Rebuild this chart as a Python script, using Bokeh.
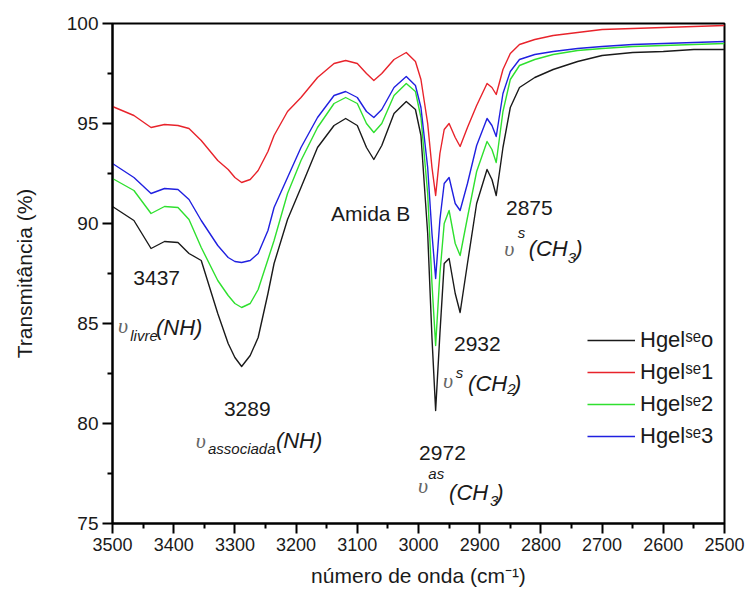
from bokeh.plotting import figure
from bokeh.models import Range1d, Legend, LegendItem, FixedTicker
from bokeh.core.properties import value
from bokeh.embed import file_html
from bokeh.resources import INLINE

# ---------------- data ----------------
wavenumber = [3500, 3465, 3437, 3415, 3393, 3375, 3355, 3328, 3311, 3300, 3289, 3275,
              3262, 3246, 3236, 3214, 3192, 3165, 3138, 3119, 3100, 3085, 3073, 3060,
              3040, 3020, 3005, 2996, 2985, 2978, 2972, 2965, 2958, 2950, 2940, 2932,
              2920, 2905, 2888, 2880, 2873, 2862, 2850, 2835, 2810, 2780, 2740, 2700,
              2650, 2600, 2550, 2500]

hgel_o = [90.85, 90.15, 88.75, 89.1, 89.05, 88.5, 88.15, 85.5, 84.0, 83.3, 82.85, 83.4,
          84.3, 86.5, 88.0, 90.2, 91.8, 93.8, 94.9, 95.25, 94.9, 93.8, 93.2, 93.9,
          95.5, 96.1, 95.7, 94.4, 89.5, 84.3, 80.65, 84.5, 88.0, 88.25, 86.5, 85.55,
          88.0, 91.0, 92.7, 92.2, 91.4, 93.8, 95.8, 96.8, 97.3, 97.7, 98.1, 98.4,
          98.55, 98.6, 98.7, 98.7]

hgel_1 = [95.85, 95.4, 94.8, 94.95, 94.9, 94.75, 94.15, 93.15, 92.7, 92.3, 92.05, 92.2,
          92.65, 93.6, 94.4, 95.6, 96.3, 97.3, 98.0, 98.15, 98.0, 97.5, 97.15, 97.5,
          98.2, 98.55, 98.1, 97.2, 95.0, 92.8, 91.4, 93.5, 94.7, 95.0, 94.3, 93.85,
          94.8, 95.9, 97.0, 96.8, 96.45, 97.7, 98.5, 98.95, 99.2, 99.4, 99.55, 99.7,
          99.75, 99.8, 99.85, 99.9]

hgel_2 = [92.25, 91.65, 90.5, 90.85, 90.8, 90.2, 88.8, 87.15, 86.4, 86.0, 85.8, 86.0,
          86.7, 88.2, 89.15, 91.5, 93.15, 94.8, 96.0, 96.3, 96.0, 95.0, 94.55, 95.0,
          96.4, 97.0, 96.6, 95.3, 91.5, 87.0, 83.9, 87.5, 90.0, 90.65, 89.0, 88.4,
          90.3, 92.6, 94.1, 93.7, 93.05, 95.6, 97.2, 97.9, 98.2, 98.45, 98.65, 98.75,
          98.85, 98.9, 98.95, 99.0]

hgel_3 = [93.0, 92.3, 91.5, 91.75, 91.7, 91.2, 90.15, 88.9, 88.3, 88.1, 88.05, 88.15,
          88.5, 89.65, 90.8, 92.3, 93.8, 95.3, 96.4, 96.6, 96.3, 95.6, 95.3, 95.7,
          96.8, 97.35, 96.9, 95.8, 92.8, 89.5, 87.25, 90.2, 92.0, 92.3, 91.0, 90.65,
          92.0, 93.9, 95.25, 94.9, 94.35, 96.5, 97.6, 98.2, 98.45, 98.6, 98.75, 98.85,
          98.95, 99.0, 99.05, 99.1]

series_labels = ["Hgel\u02e2\u1d49o", "Hgel\u02e2\u1d49" + "1",
                 "Hgel\u02e2\u1d49" + "2", "Hgel\u02e2\u1d49" + "3"]

x_ticks = [2500, 2600, 2700, 2800, 2900, 3000, 3100, 3200, 3300, 3400, 3500]
x_minor = [2550, 2650, 2750, 2850, 2950, 3050, 3150, 3250, 3350, 3450]
y_ticks = [75, 80, 85, 90, 95, 100]
y_minor = [77.5, 82.5, 87.5, 92.5, 97.5]

# annotations: text, x (cm-1), y (%), kind
ann_text = ["3437", "\u03c5", "livre", "(NH)",
            "3289", "\u03c5", "associada", "(NH)",
            "Amida B",
            "2932", "\u03c5", "s", "(CH", "2", ")",
            "2972", "\u03c5", "as", "(CH", "3", ")",
            "2875", "\u03c5", "s", "(CH", "3", ")"]
ann_x = [3466, 3491, 3471, 3429,
         3318, 3364, 3344, 3233,
         3143,
         2942, 2960, 2939, 2919, 2855, 2844,
         2999, 3001, 2984, 2950, 2883, 2873,
         2857, 2860, 2838, 2820, 2756, 2744]
ann_y = [87.3, 84.9, 84.4, 84.8,
         80.75, 79.15, 78.75, 79.15,
         90.5,
         84.0, 82.15, 82.55, 82.0, 81.75, 82.0,
         78.55, 76.9, 77.5, 76.55, 76.15, 76.55,
         90.8, 88.75, 89.55, 88.75, 88.3, 88.75]
ann_kind = ["num", "ups", "small", "ital",
            "num", "ups", "small", "ital",
            "num",
            "num", "ups", "small", "ital", "small", "ital",
            "num", "ups", "small", "ital", "small", "ital",
            "num", "ups", "small", "ital", "small", "ital"]

# ---------------- figure ----------------
p = figure(width=748, height=601, output_backend="svg", toolbar_location=None,
           x_range=Range1d(3500, 2500), y_range=Range1d(75, 100),
           min_border_left=112, min_border_right=24, min_border_top=23, min_border_bottom=78)
p.background_fill_color = "white"
p.border_fill_color = "white"
p.outline_line_color = "black"
p.outline_line_width = 2
p.xgrid.visible = False
p.ygrid.visible = False

FONT = "Liberation Sans"

p.xaxis.ticker = FixedTicker(ticks=x_ticks, minor_ticks=x_minor)
p.yaxis.ticker = FixedTicker(ticks=y_ticks, minor_ticks=y_minor)
for ax in (p.xaxis[0], p.yaxis[0]):
    ax.axis_line_width = 2
    ax.axis_line_color = "black"
    ax.major_tick_line_width = 2
    ax.minor_tick_line_width = 2
    ax.major_tick_line_color = "black"
    ax.minor_tick_line_color = "black"
    ax.major_tick_in = 0
    ax.minor_tick_in = 0
    ax.major_label_text_font = FONT
    ax.major_label_text_color = "#1a1a1a"
    ax.axis_label_text_font = FONT
    ax.axis_label_text_font_style = "normal"
    ax.axis_label_text_color = "#1a1a1a"
    ax.axis_label_text_font_size = "21px"

p.xaxis.major_tick_out = 10
p.xaxis.minor_tick_out = 5
p.xaxis.major_label_standoff = 4
p.xaxis.major_label_text_font_size = "18px"
p.xaxis.axis_label = "número de onda (cm\u207b\u00b9)"
p.xaxis.axis_label_standoff = 10

p.yaxis.major_tick_out = 10
p.yaxis.minor_tick_out = 5
p.yaxis.major_label_standoff = 4
p.yaxis.major_label_text_font_size = "19px"
p.yaxis.axis_label = "Transmitância (%)"
p.yaxis.axis_label_standoff = 28

colors = ["#1a1a1a", "#e8232b", "#2fe02f", "#2020e0"]
series = [hgel_o, hgel_1, hgel_2, hgel_3]
renderers = []
for ys, c in zip(series, colors):
    r = p.line(wavenumber, ys, line_color=c, line_width=1.4, line_join="round")
    renderers.append(r)

legend = Legend(items=[LegendItem(label=lab, renderers=[r]) for lab, r in zip(series_labels, renderers)],
                location=(475, 74), orientation="vertical")
legend.border_line_color = None
legend.background_fill_alpha = 0
legend.padding = 0
legend.margin = 0
legend.spacing = 6
legend.glyph_width = 48
legend.glyph_height = 24
legend.label_height = 24
legend.label_standoff = 5
legend.label_text_font = FONT
legend.label_text_font_size = "22px"
legend.label_text_color = "#1a1a1a"
p.add_layout(legend, "center")

styles = {
    "num": dict(text_font=value(FONT), text_font_size="21px", text_font_style="normal", text_color="#1a1a1a"),
    "ital": dict(text_font=value(FONT), text_font_size="22px", text_font_style="italic", text_color="#1a1a1a"),
    "small": dict(text_font=value(FONT), text_font_size="15px", text_font_style="italic", text_color="#1a1a1a"),
    "ups": dict(text_font=value("Liberation Serif"), text_font_size="22px", text_font_style="italic", text_color="#666666"),
}
for kind, st in styles.items():
    idx = [i for i, k in enumerate(ann_kind) if k == kind]
    p.text(x=[ann_x[i] for i in idx], y=[ann_y[i] for i in idx], text=[ann_text[i] for i in idx],
           text_align="left", text_baseline="alphabetic", **st)

open("out.html", "w").write(file_html(p, INLINE))
